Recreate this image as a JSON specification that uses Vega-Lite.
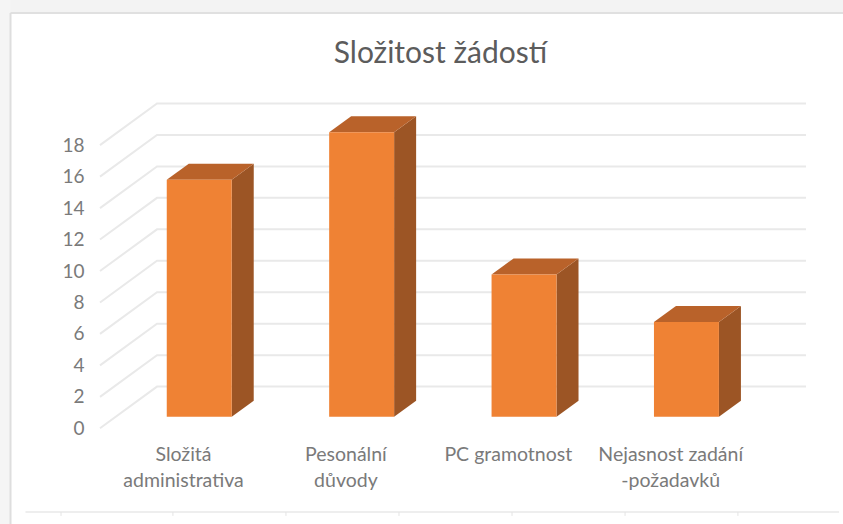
{
"$schema":"https://vega.github.io/schema/vega-lite/v6.json",
"width":843,"height":524,"padding":0,"autosize":{"type":"none"},
"background":"white",
"config":{"view":{"stroke":null},"font":"Lato"},
"title":{"text":"Složitost žádostí","anchor":"middle","frame":"group","offset":-69,"dx":19,"fontSize":30,"fontWeight":"normal","color":"#5c5c5c","font":"Lato"},
"datasets":{
"bars":[{"category":"Složitá administrativa","value":15},{"category":"Pesonální důvody","value":18},{"category":"PC gramotnost","value":9},{"category":"Nejasnost zadání -požadavků","value":6}],
"ticks":[{"tick":0},{"tick":2},{"tick":4},{"tick":6},{"tick":8},{"tick":10},{"tick":12},{"tick":14},{"tick":16},{"tick":18}],
"frameTicks":[{"t":-0.751},{"t":-0.062},{"t":0.634},{"t":1.33},{"t":2.026},{"t":2.722},{"t":3.417}],
"one":[{"frame":1}]
},
"resolve":{"scale":{"y":"independent"},"axis":{"y":"independent"}},
"layer":[
{"data":{"name":"one"},"mark":{"type":"rect","color":"#f3f3f3"},"encoding":{
 "x":{"datum":-1.1268,"type":"quantitative","scale":{"domain":[-1.1268,4.064],"nice":false,"zero":false},
  "axis":{"values":[0,1,2,3],"title":null,"domain":false,"ticks":false,"grid":false,"labelPadding":-78.5,"labelBaseline":"top","labelFontSize":19.5,"labelColor":"#7a7a7a","labelFont":"Lato","labelLineHeight":26,"labelOverlap":false,"labelFlush":false,"labelBound":false,
  "labelExpr":"[['Složitá','administrativa'],['Pesonální','důvody'],['PC gramotnost'],['Nejasnost zadání','-požadavků']][datum.value]"}},
 "x2":{"datum":4.064},
 "y":{"datum":27.23,"type":"quantitative","scale":{"domain":[-6.084,27.23],"nice":false,"zero":false},"axis":null},
 "y2":{"datum":26.4}}},
{"data":{"name":"one"},"mark":{"type":"rect","color":"#f5f5f5"},"encoding":{
 "x":{"datum":-1.1268,"type":"quantitative"},"x2":{"datum":-1.062},
 "y":{"datum":27.23,"type":"quantitative","scale":{"domain":[-6.084,27.23],"nice":false,"zero":false},"axis":null},"y2":{"datum":-6.084}}},
{"data":{"name":"one"},"mark":{"type":"rule","color":"#e0e0e0","strokeWidth":2},"encoding":{
 "x":{"datum":-1.062,"type":"quantitative"},"x2":{"datum":4.064},
 "y":{"datum":26.4,"type":"quantitative","scale":{"domain":[-6.084,27.23],"nice":false,"zero":false},"axis":null}}},
{"data":{"name":"one"},"mark":{"type":"rule","color":"#dedede","strokeWidth":2},"encoding":{
 "x":{"datum":-1.062,"type":"quantitative"},
 "y":{"datum":26.4,"type":"quantitative","scale":{"domain":[-6.084,27.23],"nice":false,"zero":false},"axis":null},"y2":{"datum":-6.084}}},
{"data":{"name":"one"},"mark":{"type":"rule","color":"#e8e8e8","strokeWidth":1.5},"encoding":{
 "x":{"datum":-0.97,"type":"quantitative"},"x2":{"datum":4.04},
 "y":{"datum":-5.32,"type":"quantitative","scale":{"domain":[-6.084,27.23],"nice":false,"zero":false},"axis":null}}},
{"data":{"name":"frameTicks"},"mark":{"type":"rule","color":"#e4e4e4","strokeWidth":1},"encoding":{
 "x":{"field":"t","type":"quantitative"},
 "y":{"datum":-5.32,"type":"quantitative","scale":{"domain":[-6.084,27.23],"nice":false,"zero":false},"axis":null},"y2":{"datum":-5.57}}},
{"data":{"name":"ticks"},
 "transform":[{"calculate":"[-0.511,-0.16,3.836]","as":"gx"},{"flatten":["gx"]},{"calculate":"datum.tick+(datum.gx<-0.4?0:2.65)","as":"gy"}],
 "mark":{"type":"line","color":"#e9e9e9","strokeWidth":2},
 "encoding":{
 "x":{"field":"gx","type":"quantitative"},
 "y":{"field":"gy","type":"quantitative","scale":{"domain":[-6.084,27.23],"nice":false,"zero":false},
  "axis":{"values":[0,2,4,6,8,10,12,14,16,18],"title":null,"domain":false,"ticks":false,"grid":false,"labelPadding":-84,"labelFontSize":19,"labelColor":"#7a7a7a","labelFont":"Lato","labelOverlap":false,"labelBound":false,"labelFlush":false}},
 "detail":{"field":"tick","type":"nominal"}}},
{"data":{"name":"bars"},
 "transform":[{"window":[{"op":"row_number","as":"rn"}]},{"calculate":"[0,1]","as":"s"},{"flatten":["s"]},
  {"calculate":"datum.rn-1+0.3+datum.s*0.1355","as":"sx"},{"calculate":"datum.value+datum.s*1.013","as":"top"},{"calculate":"datum.s*1.013","as":"base"}],
 "mark":{"type":"area","color":"#9C5525","opacity":1},
 "encoding":{
 "x":{"field":"sx","type":"quantitative"},
 "y":{"field":"top","type":"quantitative","scale":{"domain":[-6.791,26.373],"nice":false,"zero":false},"axis":null},
 "y2":{"field":"base"},
 "detail":{"field":"category","type":"nominal"}}},
{"data":{"name":"bars"},
 "transform":[{"window":[{"op":"row_number","as":"rn"}]},{"calculate":"[0,0.1355,0.4,0.5355]","as":"s"},{"flatten":["s"]},
  {"calculate":"datum.rn-1-0.1+datum.s","as":"tx"},{"calculate":"datum.value+(datum.s>0?1.013:0)","as":"top"},{"calculate":"datum.value+(datum.s>0.5?1.013:0)","as":"base"}],
 "mark":{"type":"area","color":"#B9622A","opacity":1},
 "encoding":{
 "x":{"field":"tx","type":"quantitative"},
 "y":{"field":"top","type":"quantitative","scale":{"domain":[-6.791,26.373],"nice":false,"zero":false},"axis":null},
 "y2":{"field":"base"},
 "detail":{"field":"category","type":"nominal"}}},
{"data":{"name":"bars"},
 "transform":[{"window":[{"op":"row_number","as":"rn"}]},{"calculate":"datum.rn-1-0.1","as":"l"},{"calculate":"datum.rn-1+0.3","as":"r"}],
 "mark":{"type":"rect","color":"#EF8234"},
 "encoding":{
 "x":{"field":"l","type":"quantitative"},"x2":{"field":"r"},
 "y":{"field":"value","type":"quantitative","scale":{"domain":[-6.791,26.373],"nice":false,"zero":false},"axis":null},
 "y2":{"datum":0}}}
]
}
